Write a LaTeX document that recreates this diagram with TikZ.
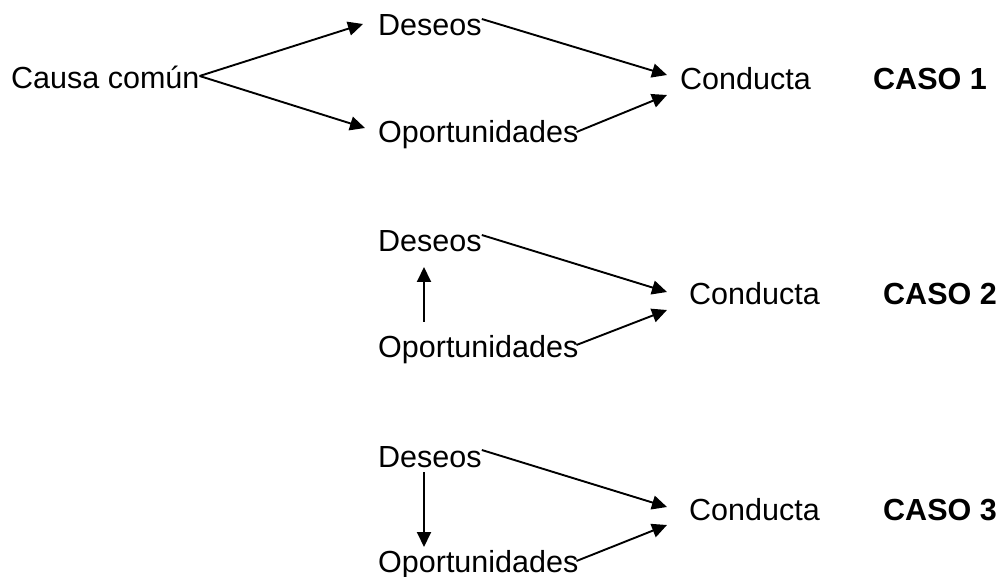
\documentclass[tikz,border=0pt]{standalone}
\usepackage{fontspec}
\setmainfont{Liberation Sans}
\usetikzlibrary{arrows.meta}
\begin{document}
\begin{tikzpicture}[x=1pt,y=-1pt,
  lbl/.style={anchor=base west,inner sep=0pt,font=\fontsize{30.5}{36}\selectfont},
  caso/.style={lbl,font=\fontsize{30.5}{36}\selectfont\bfseries},
  link/.style={line width=1.9pt,-{Triangle[length=15pt,width=14pt]}}]
\useasboundingbox (0,0) rectangle (999,577);

% Caso 1: causa comun
\node[lbl] (cc) at (11,89) {Causa común};
\node[lbl] (d1) at (378,36) {Deseos};
\node[lbl] (o1) at (378,143) {Oportunidades};
\node[lbl] (c1) at (680,90) {Conducta};
\node[caso] (k1) at (873,90) {CASO 1};
\draw[link] ([yshift=13pt]cc.base east) -- ([shift={(-15pt,12pt)}]d1.base west);
\draw[link] ([yshift=13pt]cc.base east) -- ([shift={(-13pt,15pt)}]o1.base west);
\draw[link] ([yshift=17pt]d1.base east) -- ([shift={(-13pt,15pt)}]c1.base west);
\draw[link] ([shift={(-2pt,11pt)}]o1.base east) -- ([shift={(-13pt,-5pt)}]c1.base west);

% Caso 2
\node[lbl] (d2) at (378,252) {Deseos};
\node[lbl] (o2) at (378,358) {Oportunidades};
\node[lbl] (c2) at (689,305) {Conducta};
\node[caso] (k2) at (883,305) {CASO 2};
\draw[link] ([shift={(46pt,36pt)}]o2.base west) -- ([shift={(46pt,-15pt)}]d2.base west);
\draw[link] ([yshift=17pt]d2.base east) -- ([shift={(-22pt,13pt)}]c2.base west);
\draw[link] ([shift={(-2pt,13pt)}]o2.base east) -- ([shift={(-22pt,-5pt)}]c2.base west);

% Caso 3
\node[lbl] (d3) at (378,467) {Deseos};
\node[lbl] (o3) at (378,572) {Oportunidades};
\node[lbl] (c3) at (689,520) {Conducta};
\node[caso] (k3) at (883,520) {CASO 3};
\draw[link] ([shift={(46pt,-5pt)}]d3.base west) -- ([shift={(46pt,25pt)}]o3.base west);
\draw[link] ([yshift=17pt]d3.base east) -- ([shift={(-22pt,13pt)}]c3.base west);
\draw[link] ([shift={(-2pt,11pt)}]o3.base east) -- ([shift={(-22pt,-5pt)}]c3.base west);
\end{tikzpicture}
\end{document}
